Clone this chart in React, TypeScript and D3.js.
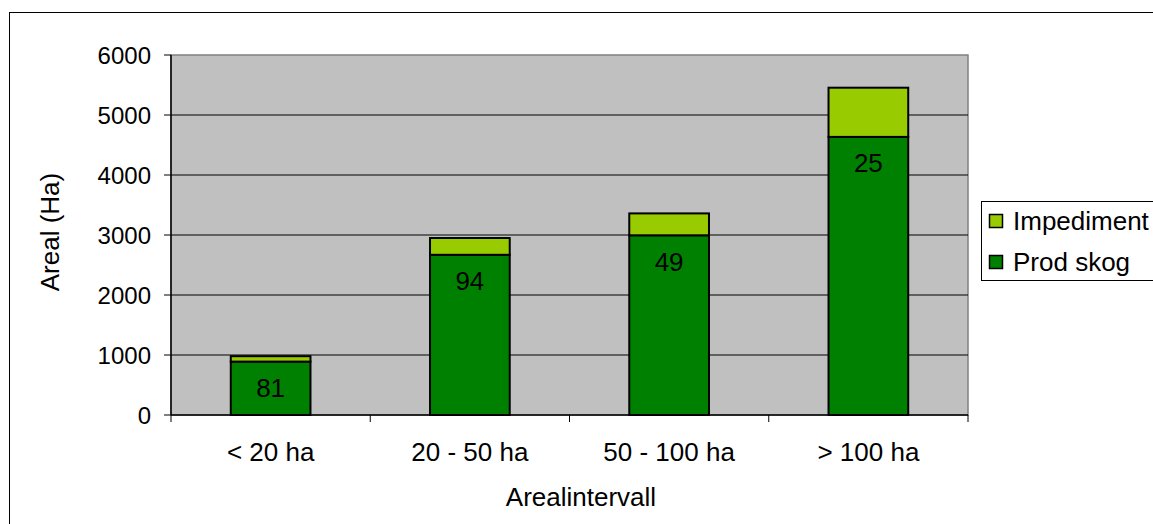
import React from "react";
import * as d3 from "d3";

const categories = ["< 20 ha", "20 - 50 ha", "50 - 100 ha", "> 100 ha"];
const prodSkog = [890, 2670, 2995, 4635];
const impediment = [90, 280, 365, 820];
const barLabels = ["81", "94", "49", "25"];
const yTicks = [0, 1000, 2000, 3000, 4000, 5000, 6000];
const seriesNames = ["Impediment", "Prod skog"];
const seriesColors = ["#99CC00", "#008000"];

const W = 1153;
const H = 524;
const plot = { left: 171, right: 968, top: 55, bottom: 415 };
const font = "'Liberation Sans', Arial, sans-serif";

export default function App() {
  const x = d3
    .scaleBand<string>()
    .domain(categories)
    .range([plot.left, plot.right])
    .paddingInner(0.6)
    .paddingOuter(0.3);
  const xOuter = d3.scaleBand<string>().domain(categories).range([plot.left, plot.right]);
  const y = d3.scaleLinear().domain([0, 6000]).range([plot.bottom, plot.top]);
  const fsTick = 24;
  const fs = 26;

  return (
    <svg width={W} height={H} style={{ position: "absolute", left: 0, top: 0 }} fontFamily={font}>
      <rect x={0} y={0} width={W} height={H} fill="#fff" />
      <rect x={9.5} y={12.5} width={W + 10} height={H + 10} fill="none" stroke="#000" strokeWidth={1} />
      {/* plot area */}
      <rect
        x={plot.left}
        y={plot.top}
        width={plot.right - plot.left}
        height={plot.bottom - plot.top}
        fill="#C0C0C0"
        stroke="#808080"
        strokeWidth={1.5}
      />
      {yTicks.map((t) => (
        <g key={t}>
          {t > 0 && t < 6000 && (
            <line x1={plot.left} x2={plot.right} y1={y(t)} y2={y(t)} stroke="#000" strokeWidth={1} />
          )}
          <line x1={plot.left - 7} x2={plot.left} y1={y(t)} y2={y(t)} stroke="#000" strokeWidth={1} />
          <text x={plot.left - 20} y={y(t)} dy="0.36em" textAnchor="end" fontSize={fsTick} fill="#000">
            {t}
          </text>
        </g>
      ))}
      {/* bars */}
      {categories.map((c, i) => {
        const bx = x(c)!;
        const bw = x.bandwidth();
        const p = prodSkog[i];
        const tot = p + impediment[i];
        return (
          <g key={c}>
            <rect x={bx} y={y(p)} width={bw} height={y(0) - y(p)} fill={seriesColors[1]} stroke="#000" strokeWidth={2} />
            <rect x={bx} y={y(tot)} width={bw} height={y(p) - y(tot)} fill={seriesColors[0]} stroke="#000" strokeWidth={2} />
            <text x={bx + bw / 2} y={y(p) + 26} dy="0.36em" textAnchor="middle" fontSize={fs} fill="#000">
              {barLabels[i]}
            </text>
          </g>
        );
      })}
      {/* axes */}
      <line x1={plot.left} x2={plot.left} y1={plot.top} y2={plot.bottom} stroke="#000" strokeWidth={1.5} />
      <line x1={plot.left} x2={plot.right} y1={plot.bottom} y2={plot.bottom} stroke="#000" strokeWidth={1.5} />
      {categories.map((c) => (
        <line
          key={"t" + c}
          x1={xOuter(c)!}
          x2={xOuter(c)!}
          y1={plot.bottom}
          y2={plot.bottom + 7}
          stroke="#000"
          strokeWidth={1}
        />
      ))}
      <line x1={plot.right} x2={plot.right} y1={plot.bottom} y2={plot.bottom + 7} stroke="#000" strokeWidth={1} />
      {categories.map((c) => (
        <text
          key={"l" + c}
          x={xOuter(c)! + xOuter.bandwidth() / 2}
          y={452}
          dy="0.36em"
          textAnchor="middle"
          fontSize={fs}
          fill="#000"
        >
          {c}
        </text>
      ))}
      <text x={581} y={497} dy="0.36em" textAnchor="middle" fontSize={fs} fill="#000">
        Arealintervall
      </text>
      <text
        transform={`translate(50, 232) rotate(-90)`}
        dy="0.36em"
        textAnchor="middle"
        fontSize={fs}
        fill="#000"
      >
        Areal (Ha)
      </text>
      {/* legend */}
      <rect x={981.5} y={201.5} width={172} height={79} fill="#fff" stroke="#000" strokeWidth={1} />
      {seriesNames.map((s, i) => (
        <g key={s}>
          <rect x={989.5} y={214.5 + i * 41} width={13} height={13} fill={seriesColors[i]} stroke="#000" strokeWidth={1.5} />
          <text x={1013} y={221 + i * 41} dy="0.36em" fontSize={fs} fill="#000">
            {s}
          </text>
        </g>
      ))}
    </svg>
  );
}
